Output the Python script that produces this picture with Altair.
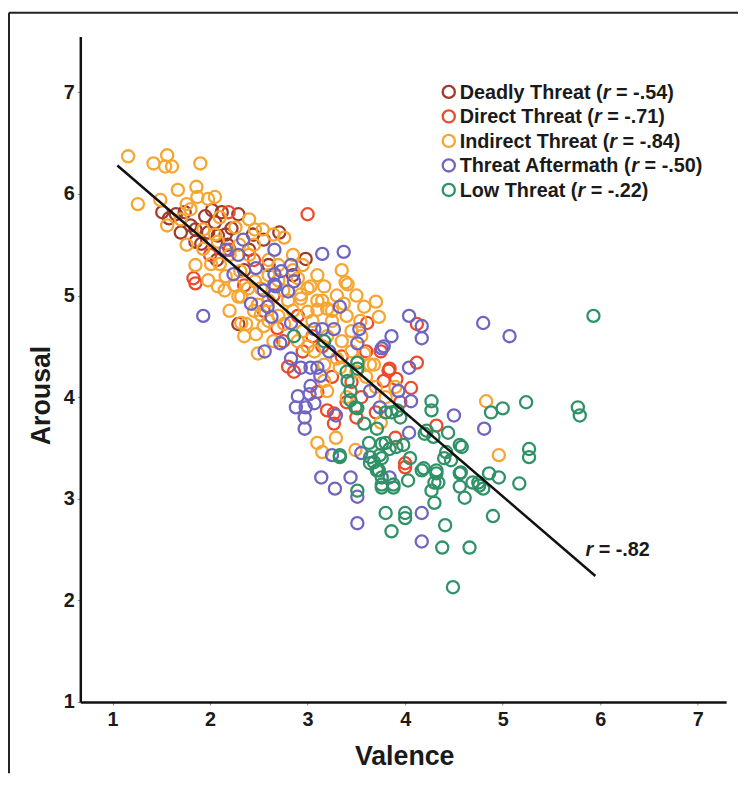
import altair as alt
import pandas as pd

categories = ["Deadly Threat", "Direct Threat", "Indirect Threat", "Threat Aftermath", "Low Threat"]
category_r = ["-.54", "-.71", "-.84", "-.50", "-.22"]
colors = ["#a03a2c", "#ec4a2c", "#f7a531", "#7064c2", "#2f9267"]

deadly_x = [1.51, 1.65, 1.58, 1.80, 1.85, 2.02, 2.12, 2.29, 1.98, 2.08, 2.16, 1.85, 1.91, 2.71, 2.98,
            2.07, 2.29, 1.74, 2.22, 2.40, 2.55, 2.05, 1.95, 2.60, 2.35, 2.85, 2.44, 1.70, 2.18]
deadly_y = [5.82, 5.80, 5.76, 5.69, 5.65, 5.84, 5.82, 5.80, 5.62, 5.59, 5.60, 5.53, 5.51, 5.62, 5.36,
            5.35, 4.72, 5.82, 5.66, 5.45, 5.55, 5.72, 5.78, 5.30, 5.25, 5.20, 5.60, 5.62, 5.50]

direct_x = [3.00, 1.83, 2.19, 1.85, 3.61, 2.80, 2.86, 3.84, 3.78, 3.20, 3.27, 2.69, 4.12, 3.83, 3.91,
            4.06, 4.32, 3.27, 4.00, 4.00, 4.12, 2.55, 2.75, 2.95, 3.05, 3.35, 3.45, 3.55, 3.15, 2.65,
            2.45, 2.20, 2.90, 3.40, 3.70, 3.10, 3.60, 3.95, 3.50, 3.90, 2.35, 2.00, 3.25, 3.75]
direct_y = [5.80, 5.17, 5.82, 5.12, 4.73, 4.30, 4.25, 4.28, 4.16, 3.87, 3.74, 4.68, 4.34, 4.26, 4.18,
            4.09, 3.72, 3.84, 3.35, 3.31, 4.72, 4.85, 4.55, 4.45, 4.60, 4.40, 4.15, 4.00, 4.50, 5.00,
            5.35, 5.45, 4.80, 3.95, 3.85, 4.05, 4.45, 3.95, 3.80, 3.60, 5.10, 5.40, 4.20, 4.45]

indirect_x = [1.16, 1.42, 1.56, 1.54, 1.61, 1.90, 1.26, 1.67, 1.86, 1.87, 1.49, 1.76, 2.05, 1.98, 1.56,
              1.76, 1.93, 2.10, 2.26, 2.46, 2.54, 2.76, 1.93, 2.10, 2.01, 2.16, 2.08, 2.31, 2.46, 2.32,
              2.90, 3.00, 2.93, 3.00, 2.49, 2.52, 2.32, 2.76, 2.08, 2.29, 2.39, 2.52, 2.93, 3.03, 3.17,
              3.41, 3.58, 3.73, 3.10, 3.20, 2.37, 2.47, 2.49, 3.07, 3.17, 3.33, 3.30, 3.58, 3.64, 3.17,
              3.20, 3.29, 3.15, 3.49, 4.83, 3.68, 4.96, 3.39, 3.37, 3.54, 3.70, 2.20, 2.40, 2.60, 2.70,
              2.55, 2.65, 2.85, 2.95, 3.05, 3.25, 3.35, 3.45, 2.80, 2.70, 2.15, 2.45, 2.85, 2.95, 3.15,
              3.40, 3.50, 3.25, 2.60, 3.60, 3.40, 3.10, 3.55, 2.35, 1.98, 2.20, 2.60, 2.75, 1.85, 2.05,
              2.30, 3.00, 3.10, 2.90, 3.30, 3.70, 1.70, 1.80, 2.40, 2.65, 2.85, 3.45, 3.20, 2.45, 2.70,
              3.35, 3.10, 2.25, 2.60, 3.50, 3.80, 3.90, 3.75]
indirect_y = [6.37, 6.30, 6.38, 6.27, 6.27, 6.30, 5.90, 6.04, 6.07, 5.97, 5.94, 5.90, 5.97, 5.95, 5.69,
              5.50, 5.65, 5.77, 5.67, 5.65, 5.65, 5.57, 5.46, 5.31, 5.31, 5.19, 5.09, 5.24, 5.14, 4.99,
              5.17, 5.07, 4.97, 4.84, 4.91, 4.81, 4.73, 4.72, 5.53, 4.99, 5.07, 5.07, 5.01, 5.09, 5.09,
              5.11, 4.89, 4.79, 4.86, 4.87, 4.72, 4.62, 4.43, 4.45, 4.32, 4.29, 4.38, 4.43, 4.32, 4.16,
              4.06, 3.60, 3.46, 3.48, 3.96, 4.32, 3.43, 5.13, 4.92, 4.75, 4.94, 5.40, 5.40, 5.35, 5.15,
              4.70, 4.55, 4.85, 4.65, 4.75, 4.75, 4.55, 4.65, 4.95, 5.30, 5.05, 5.50, 5.40, 5.30, 4.95,
              4.80, 5.00, 4.85, 4.95, 4.20, 4.00, 3.55, 4.60, 4.60, 5.15, 4.85, 5.20, 5.05, 5.30, 5.60,
              5.50, 4.50, 4.95, 4.55, 5.00, 4.10, 5.75, 5.85, 5.75, 5.60, 5.25, 4.45, 4.60, 4.85, 4.80,
              5.25, 5.20, 5.10, 4.75, 4.25, 4.00, 4.10, 3.75]

aftermath_x = [2.34, 2.29, 2.16, 2.66, 2.47, 2.24, 2.83, 2.73, 2.66, 2.66, 2.80, 2.42, 2.59, 2.86, 1.93,
               2.63, 2.67, 2.83, 3.07, 3.15, 3.27, 3.33, 3.53, 3.51, 2.72, 2.56, 2.83, 2.93, 3.03, 3.10,
               3.13, 3.22, 3.03, 3.02, 2.90, 2.88, 2.98, 3.07, 2.97, 2.97, 3.64, 3.78, 3.29, 3.25, 3.14,
               3.28, 3.44, 4.04, 4.17, 4.17, 4.80, 3.86, 3.76, 4.04, 4.06, 3.93, 4.50, 4.81, 4.04, 3.74,
               3.84, 4.17, 4.17, 3.51, 3.51, 5.07, 3.37, 3.15, 2.55, 3.55]
aftermath_y = [5.55, 5.40, 5.45, 5.45, 5.27, 5.21, 5.30, 5.24, 5.21, 5.11, 5.04, 4.92, 4.89, 5.14, 4.80,
               4.79, 5.09, 4.73, 4.67, 4.67, 4.67, 4.89, 4.67, 4.53, 4.53, 4.45, 4.38, 4.29, 4.29, 4.29,
               4.21, 4.45, 4.11, 4.03, 4.01, 3.90, 3.90, 3.94, 3.80, 3.69, 4.06, 4.50, 3.82, 3.43, 3.21,
               3.10, 3.21, 4.80, 4.70, 4.58, 4.73, 4.60, 4.48, 4.29, 3.96, 4.06, 3.82, 3.69, 3.65, 3.90,
               3.21, 2.86, 2.58, 2.76, 3.02, 4.60, 5.43, 5.41, 5.05, 3.45]

low_x = [2.86, 3.17, 3.51, 3.51, 3.41, 3.44, 3.44, 3.51, 3.58, 3.71, 3.63, 3.76, 3.84, 3.74, 3.68,
         3.33, 3.71, 3.86, 3.49, 3.80, 3.92, 3.95, 4.27, 4.27, 3.80, 3.91, 3.64, 3.76, 3.73, 4.20,
         4.29, 4.44, 4.42, 4.56, 4.19, 4.32, 4.30, 4.57, 4.75, 4.80, 4.86, 3.76, 3.88, 3.98, 3.51,
         4.49, 3.80, 4.00, 4.00, 3.86, 4.41, 4.38, 4.66, 4.90, 5.17, 4.96, 5.27, 5.27, 3.33, 3.76,
         3.76, 3.88, 4.03, 4.27, 4.30, 4.17, 4.32, 4.34, 4.47, 4.58, 4.56, 4.56, 4.61, 4.69, 4.76,
         4.22, 5.93, 4.88, 5.00, 5.24, 5.77, 5.79, 3.40, 4.05, 4.40, 3.64]
low_y = [4.60, 4.55, 4.34, 4.28, 4.16, 4.06, 3.97, 3.89, 3.74, 3.69, 3.55, 3.54, 3.49, 3.43, 3.36,
         3.43, 3.28, 3.85, 3.90, 3.85, 3.87, 3.80, 3.96, 3.87, 3.55, 3.51, 3.41, 3.40, 3.28, 3.64,
         3.61, 3.65, 3.46, 3.53, 3.30, 3.25, 3.16, 3.26, 3.16, 3.10, 3.25, 3.14, 3.14, 3.53, 3.08,
         2.13, 2.86, 2.86, 2.81, 2.68, 2.74, 2.52, 2.52, 2.83, 3.15, 3.21, 3.49, 3.41, 3.41, 3.21,
         3.11, 3.11, 3.18, 3.08, 2.96, 3.28, 3.28, 3.16, 3.38, 3.51, 3.25, 3.12, 3.01, 3.16, 3.13,
         3.67, 4.80, 3.85, 3.89, 3.95, 3.90, 3.82, 4.25, 3.40, 3.40, 3.35]

fit_x = [1.05, 5.95]
fit_y = [6.28, 2.24]

series = [(deadly_x, deadly_y), (direct_x, direct_y), (indirect_x, indirect_y),
          (aftermath_x, aftermath_y), (low_x, low_y)]
rows = []
for cat, (xs, ys) in zip(categories, series):
    for xv, yv in zip(xs, ys):
        rows.append({"cat": cat, "valence": xv, "arousal": yv})
df = pd.DataFrame(rows)

# Arial / Liberation Sans Bold advance widths (per 1000 em)
W = {" ": 278, "(": 333, ")": 333, "=": 584, "-": 333, ".": 278, "A": 722, "D": 722, "I": 278,
     "L": 611, "T": 611, "a": 556, "c": 556, "d": 611, "e": 556, "f": 333, "h": 611, "i": 278,
     "l": 278, "m": 889, "n": 611, "o": 611, "r": 389, "t": 333, "w": 778, "y": 556}
for dgt in "0123456789":
    W[dgt] = 556


def tw(s, fs):
    return sum(W.get(ch, 556) for ch in s) * fs / 1000.0


LFS = 20
leg_rows = []
for i, (cat, rv) in enumerate(zip(categories, category_r)):
    py = 56 + 24.75 * i
    pre = cat + " ("
    x0 = 383
    xr = x0 + tw(pre, LFS)
    xs = xr + tw("r ", LFS)
    leg_rows.append({"cat": cat, "cx": 372, "cy": py, "pre": pre, "tx": x0, "rx": xr,
                     "sx": xs, "suf": "= " + rv + ")", "ty": py + 7})
leg = pd.DataFrame(leg_rows)

color = alt.Color("cat:N", scale=alt.Scale(domain=categories, range=colors), legend=None)

xaxis = alt.Axis(values=[1, 2, 3, 4, 5, 6, 7], format="d", title="Valence", grid=False,
                 domainColor="#111", domainWidth=2.5, tickColor="#888", tickSize=3, tickWidth=1,
                 labelFont="Liberation Sans", labelFontWeight="bold", labelFontSize=20,
                 labelColor="#1a1a1a", labelPadding=5,
                 titleFont="Liberation Sans", titleFontWeight="bold", titleFontSize=27,
                 titleColor="#1a1a1a", titleX=327, titleY=63, titleBaseline="alphabetic",
                 titleAlign="center", titleAnchor="start")
yaxis = alt.Axis(values=[1, 2, 3, 4, 5, 6, 7], format="d", title="Arousal", grid=False,
                 domainColor="#111", domainWidth=2.5, tickColor="#888", tickSize=3, tickWidth=1,
                 labelFont="Liberation Sans", labelFontWeight="bold", labelFontSize=20,
                 labelColor="#1a1a1a", labelPadding=3,
                 titleFont="Liberation Sans", titleFontWeight="bold", titleFontSize=27,
                 titleColor="#1a1a1a", titleX=-31, titleY=362, titleBaseline="alphabetic",
                 titleAlign="center", titleAngle=270, titleAnchor="start")

xs_ = alt.Scale(domain=[0.67, 7.29], nice=False, zero=False)
ys_ = alt.Scale(domain=[1, 7.55], nice=False, zero=False)

points = alt.Chart(df).mark_point(shape="circle", filled=False, size=150, strokeWidth=2.3,
                                  opacity=1).encode(
    x=alt.X("valence:Q", scale=xs_, axis=xaxis),
    y=alt.Y("arousal:Q", scale=ys_, axis=yaxis),
    color=color,
)

fit = alt.Chart(pd.DataFrame({"valence": fit_x, "arousal": fit_y})).mark_line(
    color="#111", strokeWidth=2.5).encode(
    x=alt.X("valence:Q", scale=xs_, axis=xaxis),
    y=alt.Y("arousal:Q", scale=ys_, axis=yaxis),
)

leg_pts = alt.Chart(leg).mark_point(shape="circle", filled=False, size=150, strokeWidth=2.3,
                                    opacity=1).encode(
    x=alt.X("cx:Q", scale=None, axis=None),
    y=alt.Y("cy:Q", scale=None, axis=None),
    color=color,
)

tstyle = dict(font="Liberation Sans", fontSize=LFS, fontWeight="bold", color="#1a1a1a",
              align="left", baseline="alphabetic")
leg_pre = alt.Chart(leg).mark_text(**tstyle).encode(
    x=alt.X("tx:Q", scale=None, axis=None), y=alt.Y("ty:Q", scale=None, axis=None), text="pre:N")
leg_r = alt.Chart(leg).mark_text(fontStyle="italic", **tstyle).encode(
    x=alt.X("rx:Q", scale=None, axis=None), y=alt.Y("ty:Q", scale=None, axis=None),
    text=alt.value("r"))
leg_suf = alt.Chart(leg).mark_text(**tstyle).encode(
    x=alt.X("sx:Q", scale=None, axis=None), y=alt.Y("ty:Q", scale=None, axis=None), text="suf:N")

one = pd.DataFrame({"a": [0]})
ann_r = alt.Chart(one).mark_text(fontStyle="italic", **tstyle).encode(
    x=alt.value(510), y=alt.value(525), text=alt.value("r"))
ann_s = alt.Chart(one).mark_text(**tstyle).encode(
    x=alt.value(510 + tw("r ", LFS)), y=alt.value(525), text=alt.value("= -.82"))

border_top = alt.Chart(one).mark_rule(color="#222", strokeWidth=2).encode(
    x=alt.value(-72), x2=alt.value(664), y=alt.value(-24))
border_left = alt.Chart(one).mark_rule(color="#222", strokeWidth=2).encode(
    x=alt.value(-72), y=alt.value(-24), y2=alt.value(744))

chart = alt.layer(points, fit, leg_pts, leg_pre, leg_r, leg_suf, ann_r, ann_s,
                  border_top, border_left).properties(
    width=652, height=672,
    autosize=alt.AutoSizeParams(type="none"),
    padding={"left": 73, "top": 25, "right": 12, "bottom": 72},
).configure_view(stroke=None)

chart.save("out.html", embed_options={"renderer": "svg", "actions": False})
